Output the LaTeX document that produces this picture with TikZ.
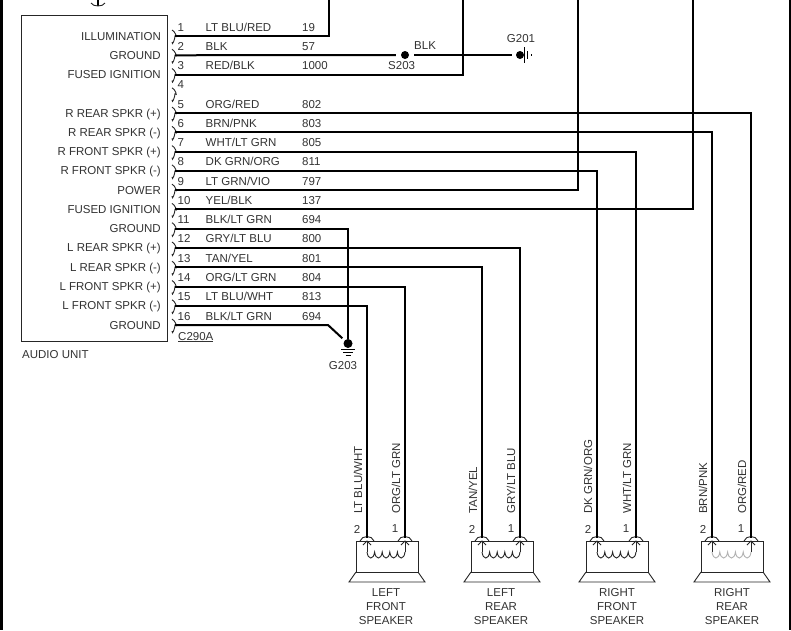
\documentclass[tikz,border=0pt]{standalone}
\usepackage{fontspec}
\setmainfont{Liberation Sans}

\newcommand{\pinarc}[1]{\draw[conn] (#1) ++(-3,-6) .. controls +(3,1) and +(3,3) .. ++(3,6) .. controls +(0,3) and +(0,5) .. ++(-3,6);}
\newcommand{\speakerbox}[4]{
    \begin{scope}[xshift=#1pt]
        \coordinate (#3_pin2) at (11,538);
        \coordinate (#3_pin1) at (#4,538);
        \draw[body] (0,541) rectangle (62,572);
        \draw[body] (0,572) -- (-7,582) -- (69,582) -- (62,572);
        \draw[conn] (4,541) .. controls (6,535) and (16,535) .. (18,541);
        \draw[conn] ({#4-7},541) .. controls ({#4-5},535) and ({#4+5},535) .. ({#4+7},541);
        \draw[conn] (7,545) -- (11,541) -- (15,545);
        \draw[conn] ({#4-4},545) -- (#4,541) -- ({#4+4},545);
        \draw[conn] (11,541) -- (11,552);
        \draw[conn] (#4,541) -- (#4,552);
        \draw[conn, draw=#2] (11,552) .. controls +(1,8) and +(-1,8) .. ++({(#4-11)/5},0) .. controls +(1,8) and +(-1,8) .. ++({(#4-11)/5},0) .. controls +(1,8) and +(-1,8) .. ++({(#4-11)/5},0) .. controls +(1,8) and +(-1,8) .. ++({(#4-11)/5},0) .. controls +(1,8) and +(-1,8) .. ++({(#4-11)/5},0);
    \end{scope}
}

\begin{document}
\begin{tikzpicture}[x=1pt, y=-1pt, node distance=19.27pt, inner sep=0pt, font=\fontsize{11.5}{14}\selectfont, text=black!80]

    % Styles
    \tikzstyle{func} = [anchor=base east, xshift=-14pt, yshift=-4pt]
    \tikzstyle{num} = [anchor=base west, xshift=2.5pt, yshift=5pt]
    \tikzstyle{colour} = [anchor=base west, xshift=30.5pt, yshift=5pt]
    \tikzstyle{circuit} = [anchor=base west, xshift=127pt, yshift=5pt]
    \tikzstyle{vlabel} = [anchor=base west, rotate=90]
    \tikzstyle{speakertext} = [align=center]
    \tikzstyle{dot} = [circle, fill=black, minimum size=8pt]
    \tikzstyle{wire} = [line width=2pt, black]
    \tikzstyle{body} = [line width=0.9pt, black!85]
    \tikzstyle{conn} = [line width=0.9pt, black!85]

    \useasboundingbox (0,0) rectangle (791,630);
    \fill[white] (0,0) rectangle (791,630);

    % Frame
    \draw[line width=3pt] (1.5,0) -- (1.5,630);
    \draw[line width=2pt] (790,0) -- (790,630);

    % Audio unit
    \draw[body] (21,15.5) rectangle (167,341.5);
    \node[anchor=base west] (audio_unit) at (22,358) {AUDIO UNIT};
    \node[anchor=base west] (c290a) at (178,340) {\underline{C290A}};
    \coordinate (feed_in) at (98,0);
    \coordinate (feed_end) at (98,6);
    \draw[wire] (feed_in) -- (feed_end);
    \draw[conn] (91,3) .. controls (93,7) and (103,7) .. (105,3);

    % Pins
    \node[coordinate] (pin1) at (175,36) {};
    \node[coordinate] (pin2) [below of=pin1] {};
    \node[coordinate] (pin3) [below of=pin2] {};
    \node[coordinate] (pin4) [below of=pin3] {};
    \node[coordinate] (pin5) [below of=pin4] {};
    \node[coordinate] (pin6) [below of=pin5] {};
    \node[coordinate] (pin7) [below of=pin6] {};
    \node[coordinate] (pin8) [below of=pin7] {};
    \node[coordinate] (pin9) [below of=pin8] {};
    \node[coordinate] (pin10) [below of=pin9] {};
    \node[coordinate] (pin11) [below of=pin10] {};
    \node[coordinate] (pin12) [below of=pin11] {};
    \node[coordinate] (pin13) [below of=pin12] {};
    \node[coordinate] (pin14) [below of=pin13] {};
    \node[coordinate] (pin15) [below of=pin14] {};
    \node[coordinate] (pin16) [below of=pin15] {};

    \pinarc{pin1} \pinarc{pin2} \pinarc{pin3} \pinarc{pin4}
    \pinarc{pin5} \pinarc{pin6} \pinarc{pin7} \pinarc{pin8}
    \pinarc{pin9} \pinarc{pin10} \pinarc{pin11} \pinarc{pin12}
    \pinarc{pin13} \pinarc{pin14} \pinarc{pin15} \pinarc{pin16}

    % Functions
    \node[func] (func1) at (pin1) {ILLUMINATION};
    \node[func] (func2) at (pin2) {GROUND};
    \node[func] (func3) at (pin3) {FUSED IGNITION};
    \node[func] (func5) at (pin5) {R REAR SPKR (+)};
    \node[func] (func6) at (pin6) {R REAR SPKR (-)};
    \node[func] (func7) at (pin7) {R FRONT SPKR (+)};
    \node[func] (func8) at (pin8) {R FRONT SPKR (-)};
    \node[func] (func9) at (pin9) {POWER};
    \node[func] (func10) at (pin10) {FUSED IGNITION};
    \node[func] (func11) at (pin11) {GROUND};
    \node[func] (func12) at (pin12) {L REAR SPKR (+)};
    \node[func] (func13) at (pin13) {L REAR SPKR (-)};
    \node[func] (func14) at (pin14) {L FRONT SPKR (+)};
    \node[func] (func15) at (pin15) {L FRONT SPKR (-)};
    \node[func] (func16) at (pin16) {GROUND};

    % Pin numbers
    \node[num] (num1) at (pin1) {1};
    \node[num] (num2) at (pin2) {2};
    \node[num] (num3) at (pin3) {3};
    \node[num] (num4) at (pin4) {4};
    \node[num] (num5) at (pin5) {5};
    \node[num] (num6) at (pin6) {6};
    \node[num] (num7) at (pin7) {7};
    \node[num] (num8) at (pin8) {8};
    \node[num] (num9) at (pin9) {9};
    \node[num] (num10) at (pin10) {10};
    \node[num] (num11) at (pin11) {11};
    \node[num] (num12) at (pin12) {12};
    \node[num] (num13) at (pin13) {13};
    \node[num] (num14) at (pin14) {14};
    \node[num] (num15) at (pin15) {15};
    \node[num] (num16) at (pin16) {16};

    % Wire colours
    \node[colour] (colour1) at (pin1) {LT BLU/RED};
    \node[colour] (colour2) at (pin2) {BLK};
    \node[colour] (colour3) at (pin3) {RED/BLK};
    \node[colour] (colour5) at (pin5) {ORG/RED};
    \node[colour] (colour6) at (pin6) {BRN/PNK};
    \node[colour] (colour7) at (pin7) {WHT/LT GRN};
    \node[colour] (colour8) at (pin8) {DK GRN/ORG};
    \node[colour] (colour9) at (pin9) {LT GRN/VIO};
    \node[colour] (colour10) at (pin10) {YEL/BLK};
    \node[colour] (colour11) at (pin11) {BLK/LT GRN};
    \node[colour] (colour12) at (pin12) {GRY/LT BLU};
    \node[colour] (colour13) at (pin13) {TAN/YEL};
    \node[colour] (colour14) at (pin14) {ORG/LT GRN};
    \node[colour] (colour15) at (pin15) {LT BLU/WHT};
    \node[colour] (colour16) at (pin16) {BLK/LT GRN};

    % Circuit numbers
    \node[circuit] (circuit1) at (pin1) {19};
    \node[circuit] (circuit2) at (pin2) {57};
    \node[circuit] (circuit3) at (pin3) {1000};
    \node[circuit] (circuit5) at (pin5) {802};
    \node[circuit] (circuit6) at (pin6) {803};
    \node[circuit] (circuit7) at (pin7) {805};
    \node[circuit] (circuit8) at (pin8) {811};
    \node[circuit] (circuit9) at (pin9) {797};
    \node[circuit] (circuit10) at (pin10) {137};
    \node[circuit] (circuit11) at (pin11) {694};
    \node[circuit] (circuit12) at (pin12) {800};
    \node[circuit] (circuit13) at (pin13) {801};
    \node[circuit] (circuit14) at (pin14) {804};
    \node[circuit] (circuit15) at (pin15) {813};
    \node[circuit] (circuit16) at (pin16) {694};

    % Splice and grounds
    \node[dot] (s203) at (405,55) {};
    \node[anchor=base west] (s203_label) at (388,69) {S203};
    \node[anchor=base west] (blk_label) at (414,49) {BLK};
    \node[dot] (g201) at (520,55) {};
    \node[anchor=base] (g201_label) at (521,42) {G201};
    \draw[line width=1pt] (524.5,47) -- (524.5,63);
    \draw[line width=0.8pt] (527.5,51) -- (527.5,59);
    \draw[line width=0.8pt] (531,54) -- (531,56);
    \node[dot, minimum size=9pt] (g203) at (348,343.5) {};
    \node[anchor=base] (g203_label) at (343,369) {G203};
    \draw[line width=0.9pt] (341,349.5) -- (355,349.5);
    \draw[line width=0.8pt] (343,352.5) -- (353,352.5);
    \draw[line width=0.8pt] (345.5,355.5) -- (350.5,355.5);

    % Speakers
    \speakerbox{356}{black!85}{lf}{49}
    \speakerbox{471}{black!85}{lr}{49}
    \speakerbox{586}{black!85}{rf}{50}
    \speakerbox{701}{black!30}{rr}{50}

    % Speaker pin numbers
    \node (lf_num2) at (357,529) {2};
    \node (lf_num1) at (395,529) {1};
    \node (lr_num2) at (472,529) {2};
    \node (lr_num1) at (511,529) {1};
    \node (rf_num2) at (588,529) {2};
    \node (rf_num1) at (626,529) {1};
    \node (rr_num2) at (703,529) {2};
    \node (rr_num1) at (741,529) {1};

    % Speaker wire labels
    \node[vlabel] (lf_colour2) at (362,514) {LT BLU/WHT};
    \node[vlabel] (lf_colour1) at (400,514) {ORG/LT GRN};
    \node[vlabel] (lr_colour2) at (477,514) {TAN/YEL};
    \node[vlabel] (lr_colour1) at (515,514) {GRY/LT BLU};
    \node[vlabel] (rf_colour2) at (592,514) {DK GRN/ORG};
    \node[vlabel] (rf_colour1) at (631,514) {WHT/LT GRN};
    \node[vlabel] (rr_colour2) at (707,514) {BRN/PNK};
    \node[vlabel] (rr_colour1) at (746,514) {ORG/RED};

    % Speaker names
    \node[speakertext] (lf_name) at (386,607) {LEFT\\FRONT\\SPEAKER};
    \node[speakertext] (lr_name) at (501,607) {LEFT\\REAR\\SPEAKER};
    \node[speakertext] (rf_name) at (617,607) {RIGHT\\FRONT\\SPEAKER};
    \node[speakertext] (rr_name) at (732,607) {RIGHT\\REAR\\SPEAKER};

    % Wire ends at the top
    \coordinate (top1) at (329,0);
    \coordinate (top3) at (463,0);
    \coordinate (top9) at (578,0);
    \coordinate (top10) at (693,0);

    % Wires
    \draw[wire] (pin1) -| (top1);
    \draw[wire, shorten >=5pt] (pin2) -- (s203);
    \draw[wire, line width=1.4pt, shorten <=5pt, shorten >=4pt] (s203) -- (g201);
    \draw[wire] (pin3) -| (top3);
    \draw[wire] (pin5) -| (rr_pin1);
    \draw[wire] (pin6) -| (rr_pin2);
    \draw[wire] (pin7) -| (rf_pin1);
    \draw[wire] (pin8) -| (rf_pin2);
    \draw[wire] (pin9) -| (top9);
    \draw[wire] (pin10) -| (top10);
    \draw[wire] (pin11) -| (g203);
    \draw[wire] (pin12) -| (lr_pin1);
    \draw[wire] (pin13) -| (lr_pin2);
    \draw[wire] (pin14) -| (lf_pin1);
    \draw[wire] (pin15) -| (lf_pin2);
    \coordinate (bend16) at (328,325);
    \draw[wire, shorten >=3pt] (pin16) -- (bend16) -- (g203);

\end{tikzpicture}
\end{document}
